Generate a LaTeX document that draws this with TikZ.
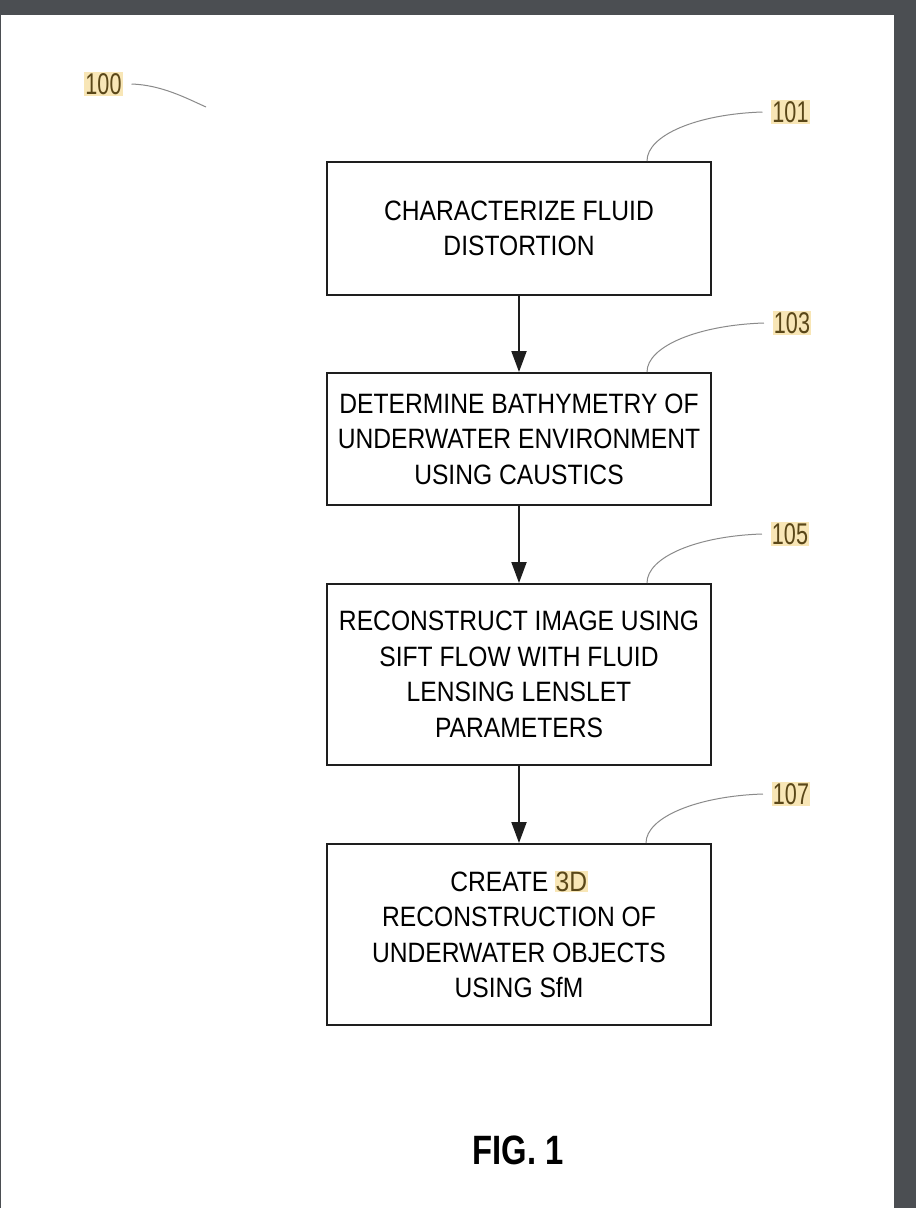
\documentclass[tikz,border=0pt]{standalone}
\usepackage{fontspec}
\usepackage{xcolor}
\usepackage{tikz}
\usetikzlibrary{arrows.meta}
\setmainfont{Liberation Sans}
\newfontfamily\boxfont[FakeStretch=0.88]{Liberation Sans}
\newfontfamily\tagfont[FakeStretch=0.72]{Liberation Sans}
\newfontfamily\figfont[FakeStretch=0.8]{Liberation Sans}
\definecolor{pagebg}{HTML}{4B4E52}
\definecolor{hlfill}{HTML}{F8E6B6}
\definecolor{hltext}{HTML}{5A4718}
\definecolor{inkline}{HTML}{1E1E1E}
\definecolor{leadgray}{HTML}{8A8A8A}
\newcommand{\hilite}[1]{{\setlength{\fboxsep}{0.5pt}\colorbox{hlfill}{\color{hltext}#1}}}

\begin{document}
\begin{tikzpicture}[
    x=1pt,
    y=-1pt,
    stepbox/.style={
        draw=inkline,
        line width=2pt,
        minimum width=384pt,
        align=center,
        font=\boxfont\fontsize{28}{35.6}\selectfont
    },
    flow/.style={
        draw=inkline,
        line width=2pt,
        -{Triangle[length=21pt,width=15pt]}
    },
    tag/.style={
        fill=hlfill,
        text=hltext,
        inner sep=1pt,
        outer sep=9pt,
        font=\tagfont\fontsize{30}{30}\selectfont
    },
    leader/.style={
        draw=leadgray,
        line width=1pt
    }
]


\fill[pagebg] (0,0) rectangle (916,1208);
\fill[white] (1.3,15) rectangle (893.5,1208);


\node[stepbox, minimum height=133pt] (fluid) at (519,228.5)
    {CHARACTERIZE FLUID\\DISTORTION};
\node[stepbox, minimum height=132pt] (bathy) at (519,439)
    {DETERMINE BATHYMETRY OF\\UNDERWATER ENVIRONMENT\\USING CAUSTICS};
\node[stepbox, minimum height=181pt] (recon) at (519,674.5)
    {RECONSTRUCT IMAGE USING\\SIFT FLOW WITH FLUID\\LENSING LENSLET\\PARAMETERS};
\node[stepbox, minimum height=181pt] (sfm) at (519,934.5)
    {CREATE \hilite{3D}\\RECONSTRUCTION OF\\UNDERWATER OBJECTS\\USING SfM};


\draw[flow] (fluid) -- (bathy);
\draw[flow] (bathy) -- (recon);
\draw[flow] (recon) -- (sfm);


\node[tag] (t100) at (103.5,84) {100};
\node[tag] (t101) at (790.5,112) {101};
\node[tag] (t103) at (792,323) {103};
\node[tag] (t105) at (790,534) {105};
\node[tag] (t107) at (791,794) {107};


\coordinate (f100) at (206,107);
\coordinate (f101) at ([xshift=128pt]fluid.north);
\coordinate (f103) at ([xshift=128pt]bathy.north);
\coordinate (f105) at ([xshift=128pt]recon.north);
\coordinate (f107) at ([xshift=127pt]sfm.north);

\draw[leader] (t100.east) .. controls +(30,1) and +(-20,-9) .. (f100);
\draw[leader] (t101.west) .. controls +(-65,2) and +(0,-26) .. (f101);
\draw[leader] (t103.west) .. controls +(-65,2) and +(0,-26) .. (f103);
\draw[leader] (t105.west) .. controls +(-65,2) and +(0,-26) .. (f105);
\draw[leader] (t107.west) .. controls +(-65,2) and +(0,-26) .. (f107);


\node[font=\figfont\bfseries\fontsize{41}{41}\selectfont] (figlabel) at (518,1150) {FIG. 1};

\end{tikzpicture}
\end{document}
